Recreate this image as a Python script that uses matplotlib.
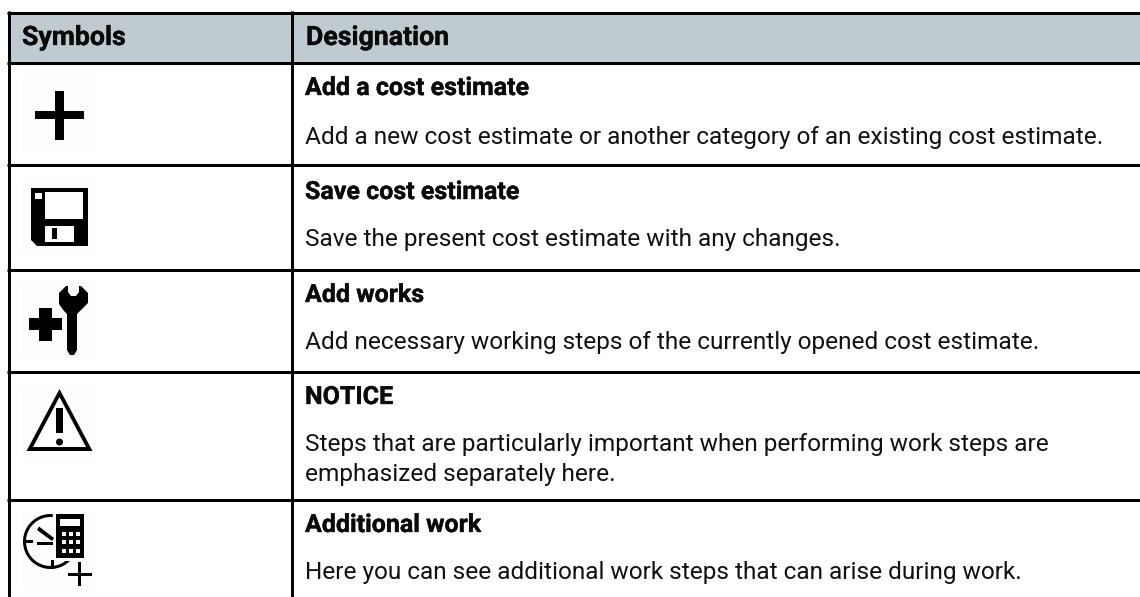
import matplotlib
matplotlib.use("Agg")
import matplotlib.pyplot as plt
import matplotlib.patheffects as pe
from matplotlib.patches import Rectangle, Polygon, Circle, Wedge

plt.rcParams['font.family'] = ['Roboto', 'DejaVu Sans']

W, H = 1140, 597
headers = ["Symbols", "Designation"]
titles = ["Add a cost estimate", "Save cost estimate", "Add works", "NOTICE", "Additional work"]
bodies = ["Add a new cost estimate or another category of an existing cost estimate.",
          "Save the present cost estimate with any changes.",
          "Add necessary working steps of the currently opened cost estimate.",
          "Steps that are particularly important when performing work steps are",
          "emphasized separately here.",
          "Here you can see additional work steps that can arise during work."]
row_lines = [12.5, 62.5, 165, 269.5, 371.5, 499.5]
title_y = [95, 199, 302, 404, 532]
body_y = [144, 246, 349, 451, 481, 579]
icon_tops = [77, 179, 282, 385, 511]
HEAD_FS, TITLE_FS, BODY_FS = 19.2, 18.0, 17.6
HEAVY = [pe.withStroke(linewidth=0.25, foreground='#0a0a0a')]

fig = plt.figure(figsize=(W/100, H/100), dpi=100)
ax = fig.add_axes([0, 0, 1, 1])
ax.set_xlim(0, W); ax.set_ylim(H, 0); ax.axis('off')

def rect(x0, y0, x1, y1, c='k', z=3):
    ax.add_patch(Rectangle((x0, y0), x1-x0, y1-y0, fc=c, ec='none', zorder=z))
def poly(pts, c='k', z=3):
    ax.add_patch(Polygon(pts, closed=True, fc=c, ec='none', zorder=z))

rect(8.5, 12.5, W, 62.5, '#bfcbd1', 1)
for y in row_lines:
    ax.plot([7, W], [y, y], color='k', lw=2.16, solid_capstyle='butt', zorder=2)
for x in [8.5, 291.5]:
    ax.plot([x, x], [11, H], color='k', lw=2.16, solid_capstyle='butt', zorder=2)

for x, h in zip([22, 306], headers):
    ax.text(x, 45, h, fontsize=HEAD_FS, fontweight='bold', va='baseline', color='#0a0a0a', path_effects=HEAVY)
for t, ty in zip(titles, title_y):
    ax.text(305, ty, t, fontsize=TITLE_FS, fontweight='bold', va='baseline', color='#0a0a0a', path_effects=HEAVY)
for b, by in zip(bodies, body_y):
    ax.text(305, by, b, fontsize=BODY_FS, va='baseline', color='#111')

for t in icon_tops:
    rect(21, t, 97, t+76, '#fdfdfd', 1)

# plus
rect(35, 111, 84, 119); rect(55, 91, 64, 140)

# floppy
poly([(31, 188), (88, 188), (88, 246), (37, 246), (31, 240)])
rect(35, 193, 42, 199, 'w', 4)
rect(45, 192, 83, 219, 'w', 4)
rect(45, 226, 74, 242, 'w', 4)
rect(52, 228, 57, 239, 'k', 5)

# wrench + plus
rect(29, 318, 62, 330); rect(39, 308, 52, 341)
poly([(59, 293), (66, 286), (68, 286), (68, 292), (71, 296), (76, 296), (79, 292), (79, 286),
      (81, 286), (88, 293), (88, 303), (80, 311), (77, 314), (77, 350), (74, 355), (70, 355),
      (67, 350), (67, 314), (64, 311), (59, 304)])

# warning triangle
poly([(59.5, 389), (26.5, 451), (92.5, 451)])
poly([(59.5, 397), (33, 447), (86, 447)], 'w', 3.5)
rect(56, 408, 63, 433, 'k', 4)
ax.add_patch(Circle((59.5, 442), 3.5, fc='k', ec='none', zorder=4))

# clock, calculator, plus
ax.add_patch(Wedge((50.5, 541.5), 27.5, 40, 275, width=3, fc='k', ec='none', zorder=3))
rect(23, 539.5, 33, 542.5)
rect(50.5, 560, 53.5, 569)
poly([(37, 530), (39, 526.5), (54, 538), (52, 541)])
rect(37, 541.5, 53, 544.5)
rect(54, 512, 87, 561, 'w', 3.5)
rect(56, 514, 84, 558, 'k', 3.6)
rect(60, 519, 80, 526, 'w', 4)
for cy in [534, 542, 551]:
    for cx in [63.5, 70.5, 77.5]:
        rect(cx-2, cy-2, cx+2, cy+2, 'w', 4)
rect(68, 572.5, 92, 575.5); rect(77.5, 562, 80.5, 586)

fig.savefig("out.png", dpi=100)
